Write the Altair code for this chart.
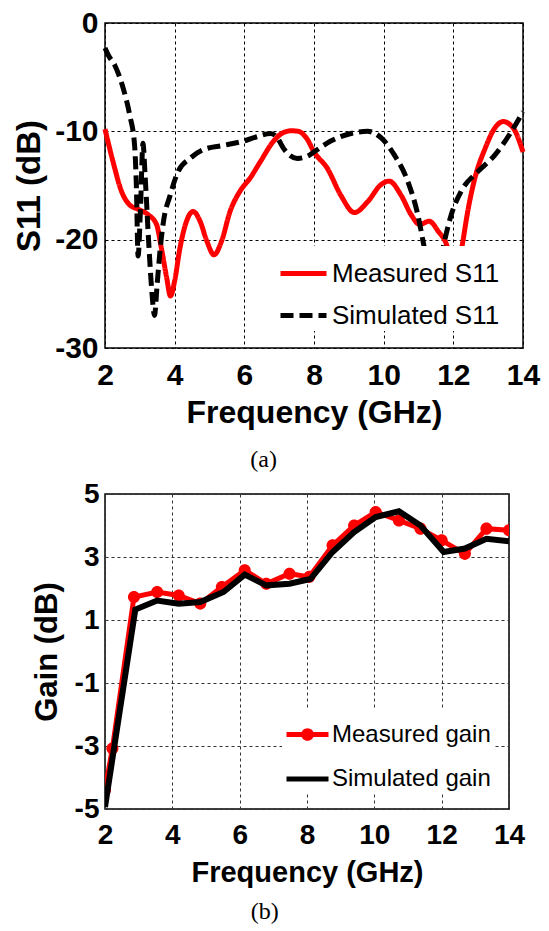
import altair as alt
import pandas as pd

# ---------------- data ----------------
x_ticks = [2, 4, 6, 8, 10, 12, 14]
s11_ticks = [-30, -20, -10, 0]
gain_ticks = [-5, -3, -1, 1, 3, 5]
s11_series = ["Measured S11", "Simulated S11"]
gain_series = ["Measured gain", "Simulated gain"]
marker_keys = ["m", "s"]

s11_meas_freq = [2.0, 2.23, 2.47, 2.71, 2.96, 3.24, 3.48, 3.62, 3.77, 3.88, 4.0, 4.15,
                 4.34, 4.53, 4.73, 4.92, 5.13, 5.35, 5.59, 5.88, 6.17, 6.46, 6.84, 7.13,
                 7.35, 7.55, 7.8, 8.0, 8.38, 8.77, 9.16, 9.54, 9.93, 10.16, 10.5, 10.79,
                 11.03, 11.31, 11.56, 11.84, 12.05, 12.24, 12.43, 12.62, 12.91, 13.19,
                 13.43, 13.72, 14.0]
s11_meas_db = [-9.8, -12.8, -15.5, -16.8, -17.2, -17.7, -18.6, -20.8, -23.5, -25.2, -23.8,
               -20.8, -18.3, -17.4, -18.3, -20.1, -21.4, -20.1, -17.4, -15.5, -14.3, -12.8,
               -10.9, -10.1, -9.95, -10.0, -10.7, -11.9, -13.4, -15.9, -17.5, -16.5, -14.9,
               -14.6, -15.9, -17.7, -18.6, -18.3, -19.2, -20.8, -24.0, -20.8, -17.1, -14.3,
               -11.6, -9.7, -9.1, -9.7, -11.9]

s11_sim_freq = [2.0, 2.1, 2.28, 2.52, 2.71, 2.85, 2.9, 2.95, 3.02, 3.09, 3.15, 3.25, 3.35,
                3.42, 3.5, 3.58, 3.68, 3.87, 4.1, 4.44, 4.82, 5.4, 5.98, 6.36, 6.75, 6.95,
                7.13, 7.52, 7.81, 8.0, 8.48, 9.06, 9.54, 9.93, 10.31, 10.69, 10.98, 11.17,
                11.45, 11.7, 11.94, 12.23, 12.71, 13.19, 13.67, 14.0]
s11_sim_db = [-2.3, -3.0, -3.9, -6.0, -8.5, -11.3, -15.0, -21.5, -17.0, -11.1, -14.0, -20.0,
              -25.0, -27.0, -24.0, -21.0, -18.3, -15.9, -13.7, -12.5, -11.7, -11.3, -10.9,
              -10.5, -10.2, -10.6, -11.6, -12.5, -12.3, -11.9, -10.9, -10.2, -10.0, -10.6,
              -12.2, -14.6, -17.7, -20.8, -25.0, -20.8, -17.7, -15.5, -13.7, -12.2, -10.0,
              -8.2]

gain_meas_freq = [2.0, 2.22, 2.86, 3.55, 4.19, 4.83, 5.47, 6.15, 6.79, 7.48, 8.07, 8.76,
                  9.4, 10.04, 10.73, 11.37, 12.0, 12.69, 13.33, 14.0]
gain_meas_db = [-4.4, -3.08, 1.73, 1.89, 1.78, 1.52, 2.05, 2.58, 2.15, 2.47, 2.37, 3.37,
                4.0, 4.43, 4.16, 3.9, 3.53, 3.1, 3.9, 3.85]

gain_sim_freq = [2.0, 2.9, 3.55, 4.19, 4.83, 5.52, 6.15, 6.79, 7.48, 8.1, 8.76, 9.4, 10.04,
                 10.73, 11.37, 12.06, 12.69, 13.33, 14.0]
gain_sim_db = [-4.94, 1.33, 1.62, 1.52, 1.57, 1.89, 2.44, 2.1, 2.15, 2.3, 3.16, 3.79, 4.27,
               4.45, 4.0, 3.16, 3.27, 3.58, 3.5]

FONT = "Liberation Sans"
HYPHEN = "datum.value < 0 ? '-' + abs(datum.value) : '' + datum.value"


def frame(f, v, name):
    return pd.DataFrame({"freq": f, "val": v, "series": name})


df_a_meas = frame(s11_meas_freq, s11_meas_db, s11_series[0])
df_a_sim = frame(s11_sim_freq, s11_sim_db, s11_series[1])
df_b_meas = frame(gain_meas_freq, gain_meas_db, gain_series[0])
df_b_sim = frame(gain_sim_freq, gain_sim_db, gain_series[1])
df_b_pts = df_b_meas.assign(mk=marker_keys[0])


def x_enc(label_size, title_size, label_pad, title_pad, grid_color):
    return alt.X(
        "freq:Q",
        scale=alt.Scale(domain=[2, 14], nice=False, zero=False),
        axis=alt.Axis(values=x_ticks, title="Frequency (GHz)", labelFont=FONT,
                      labelFontSize=label_size, labelFontWeight="bold", labelColor="black",
                      labelPadding=label_pad, titleFont=FONT, titleFontSize=title_size,
                      titleFontWeight="bold", titleColor="black", titlePadding=title_pad,
                      grid=True, gridColor=grid_color, gridDash=[3, 3], gridWidth=1,
                      ticks=False, domain=False, labelFlush=False, labelOverlap=False),
    )


def y_enc(domain, ticks, title, label_size, title_size, label_pad, title_pad, grid_color):
    return alt.Y(
        "val:Q",
        scale=alt.Scale(domain=domain, nice=False, zero=False),
        axis=alt.Axis(values=ticks, title=title, labelExpr=HYPHEN, labelFont=FONT,
                      labelFontSize=label_size, labelFontWeight="bold", labelColor="black",
                      labelPadding=label_pad, titleFont=FONT, titleFontSize=title_size,
                      titleFontWeight="bold", titleColor="black", titlePadding=title_pad,
                      grid=True, gridColor=grid_color, gridDash=[3, 3], gridWidth=1,
                      ticks=False, domain=False, labelFlush=False, labelOverlap=False),
    )


# ---------------- panel (a) ----------------
legend_a = alt.Legend(title=None, orient="none", legendX=171, legendY=223, padding=2,
                      rowPadding=3, fillColor="white", labelFont=FONT, labelFontSize=26,
                      labelLimit=0, labelColor="black", labelOffset=3, symbolType="stroke",
                      symbolSize=2116, symbolStrokeWidth=5)
color_a = alt.Color("series:N", scale=alt.Scale(domain=s11_series, range=["#ff0000", "#000000"]),
                    legend=legend_a)
dash_a = alt.StrokeDash("series:N", scale=alt.Scale(domain=s11_series, range=[[1, 0], [13, 6]]),
                        legend=legend_a)
xa = x_enc(30, 32, 12, 7, "black")
ya = y_enc([-30, 0], s11_ticks, "S11 (dB)", 30, 33, 7, 8, "black")

a_meas = alt.Chart(df_a_meas).mark_line(strokeWidth=5, interpolate="monotone").encode(
    x=xa, y=ya, color=color_a, strokeDash=dash_a)
a_sim = alt.Chart(df_a_sim).mark_line(strokeWidth=5, interpolate="monotone").encode(
    x=xa, y=ya, color=color_a, strokeDash=dash_a)

chart_a = alt.layer(a_meas, a_sim).properties(
    width=418, height=325,
    title=alt.TitleParams("(a)", orient="bottom", anchor="middle", frame="bounds",
                          font="Liberation Serif", fontSize=24, fontWeight="normal",
                          color="black", offset=20, dx=-13))

# ---------------- panel (b) ----------------
LEG_X, LEG_Y = 177, 215
dot_path = "M-0.27,0A0.27,0.27,0,1,1,0.27,0A0.27,0.27,0,1,1,-0.27,0Z"
legend_b = alt.Legend(
    title=None, orient="none", legendX=LEG_X, legendY=LEG_Y, padding=2, rowPadding=8.5,
    fillColor="white", labelFont=FONT, labelFontSize=24, labelLimit=0, labelColor="black",
    labelOffset=1, symbolType="stroke", symbolSize=1764, symbolStrokeWidth=5, zindex=1)
legend_b_dots = alt.Legend(
    title=None, orient="none", legendX=LEG_X, legendY=LEG_Y, padding=2, rowPadding=8.5,
    labelFont=FONT, labelFontSize=24, labelLimit=0, labelColor="transparent", labelOffset=1,
    labelExpr="datum.value === 'm' ? 'Measured gain' : 'Simulated gain'",
    symbolSize=2209, symbolStrokeWidth=0, symbolFillColor="#ff0000", zindex=2)
color_b = alt.Color("series:N", scale=alt.Scale(domain=gain_series, range=["#ff0000", "#000000"]),
                    legend=legend_b)
shape_b = alt.Shape("mk:N", scale=alt.Scale(domain=marker_keys, range=[dot_path, "M0,0Z"]),
                    legend=legend_b_dots)
xb = x_enc(28, 29, 12, 9, "#333333")
yb = y_enc([-5, 5], gain_ticks, "Gain (dB)", 28, 31, 6, 11, "#333333")

b_meas = alt.Chart(df_b_meas).mark_line(strokeWidth=5, clip=True).encode(x=xb, y=yb, color=color_b)
b_pts = alt.Chart(df_b_pts).mark_point(filled=True, size=2000, color="#ff0000", opacity=1,
                                       strokeWidth=0, clip=True).encode(x=xb, y=yb, shape=shape_b)
b_sim = alt.Chart(df_b_sim).mark_line(strokeWidth=6, clip=True).encode(x=xb, y=yb, color=color_b)

chart_b = alt.layer(b_meas, b_pts, b_sim).properties(
    width=404, height=315,
    title=alt.TitleParams("(b)", orient="bottom", anchor="middle", frame="bounds",
                          font="Liberation Serif", fontSize=24, fontWeight="normal",
                          color="black", offset=13, dx=-13))

chart = alt.vconcat(chart_a, chart_b, spacing=146, bounds="flush").resolve_scale(
    color="independent", strokeDash="independent", shape="independent"
).resolve_legend(
    color="independent", strokeDash="independent", shape="independent"
).properties(
    padding={"left": 12, "top": 7, "right": 0, "bottom": 0}
).configure_view(stroke="black", strokeWidth=1.5)

chart.save("out.html", embed_options={"renderer": "svg", "actions": False})
